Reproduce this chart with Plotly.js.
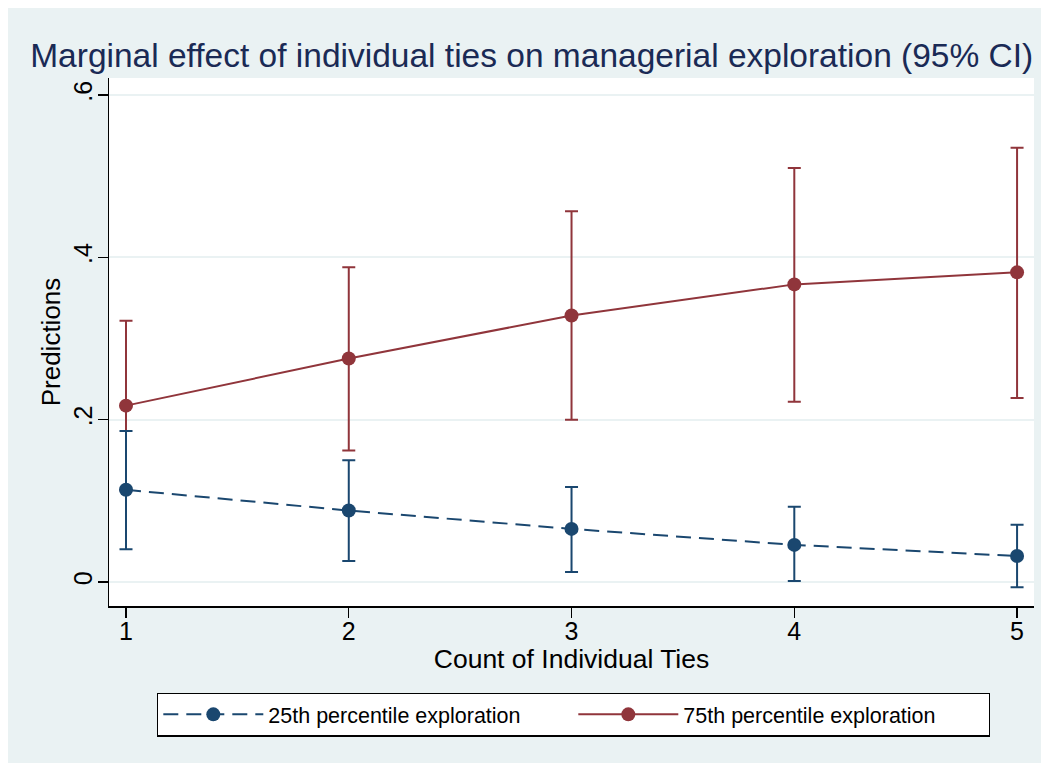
<!DOCTYPE html>
<html>
<head>
<meta charset="utf-8">
<script src="https://cdn.plot.ly/plotly-3.0.1.min.js"></script>
<style>
html,body{margin:0;padding:0;background:#ffffff;}
#chart{position:absolute;left:8px;top:8px;width:1033px;height:755px;}
</style>
</head>
<body>
<div id="chart"></div>
<script>
// Data
const ties = [1, 2, 3, 4, 5];
const xTickLabels = ["1", "2", "3", "4", "5"];
const yTickVals = [0, 0.2, 0.4, 0.6];
const yTickLabels = ["0", ".2", ".4", ".6"];

const p25 = [0.1136, 0.088, 0.0654, 0.0457, 0.032];
const p25Upper = [0.186, 0.150, 0.117, 0.0926, 0.0704];
const p25Lower = [0.0403, 0.026, 0.0123, 0.0012, -0.0066];

const p75 = [0.2173, 0.2753, 0.3284, 0.3667, 0.3815];
const p75Upper = [0.322, 0.3877, 0.4568, 0.510, 0.535];
const p75Lower = [0.113, 0.162, 0.200, 0.222, 0.2268];

const blue = '#1a476f';
const red = '#90353b';
const bg = '#eaf2f3';

function errs(mid, up, lo) {
  return {
    plus: up.map((u, i) => u - mid[i]),
    minus: lo.map((l, i) => mid[i] - l)
  };
}
const e25 = errs(p25, p25Upper, p25Lower);
const e75 = errs(p75, p75Upper, p75Lower);

const traces = [
  {
    x: ties, y: p75, name: '75th percentile exploration',
    type: 'scatter', mode: 'lines+markers',
    line: {color: red, width: 2},
    marker: {color: red, size: 14},
    error_y: {type: 'data', symmetric: false, array: e75.plus, arrayminus: e75.minus,
              color: red, thickness: 2, width: 6.5},
    legendrank: 2
  },
  {
    x: ties, y: p25, name: '25th percentile exploration',
    type: 'scatter', mode: 'lines+markers',
    line: {color: blue, width: 2, dash: '15px,8px'},
    marker: {color: blue, size: 14},
    error_y: {type: 'data', symmetric: false, array: e25.plus, arrayminus: e25.minus,
              color: blue, thickness: 2, width: 6.5},
    legendrank: 1
  }
];

const font = 'Liberation Sans, Arial, Helvetica, sans-serif';

const layout = {
  width: 1033, height: 755,
  paper_bgcolor: bg, plot_bgcolor: '#ffffff',
  margin: {l: 101, r: 7, t: 70, b: 157},
  font: {family: font, color: '#000000', size: 25},
  title: {
    text: 'Marginal effect of individual ties on managerial exploration (95% CI)',
    font: {family: font, size: 33.5, color: '#1a2a55'},
    x: 0.507, xanchor: 'center', y: 0.9377, yanchor: 'middle', xref: 'container', yref: 'container'
  },
  xaxis: {
    range: [0.9237, 5.076],
    tickvals: ties, ticktext: xTickLabels,
    ticks: 'outside', ticklen: 10, tickwidth: 1.3, tickcolor: '#000',
    ticklabelstandoff: -8,
    showline: true, linecolor: '#000', linewidth: 1.5,
    showgrid: false, zeroline: false,
    tickfont: {size: 25},
    title: {text: 'Count of Individual Ties', font: {size: 26.5}, standoff: 0}
  },
  yaxis: {
    range: [-0.0296, 0.621],
    tickvals: yTickVals, ticktext: yTickLabels,
    ticks: 'outside', ticklen: 10, tickwidth: 1.3, tickcolor: '#000',
    tickangle: -90, ticklabelstandoff: -4,
    showline: true, linecolor: '#000', linewidth: 1.5,
    showgrid: true, gridcolor: bg, gridwidth: 2, zeroline: false,
    tickfont: {size: 25},
    title: {text: 'Predictions', font: {size: 26}, standoff: 0}
  },
  showlegend: true,
  legend: {
    orientation: 'h',
    x: 0.0519, xanchor: 'left', y: -0.164, yanchor: 'top',
    bgcolor: '#ffffff', bordercolor: '#000', borderwidth: 1.3,
    font: {size: 21.5},
    itemwidth: 100, entrywidth: 300,
    traceorder: 'normal'
  }
};

Plotly.newPlot('chart', traces, layout, {displayModeBar: false, staticPlot: true});
</script>
</body>
</html>
